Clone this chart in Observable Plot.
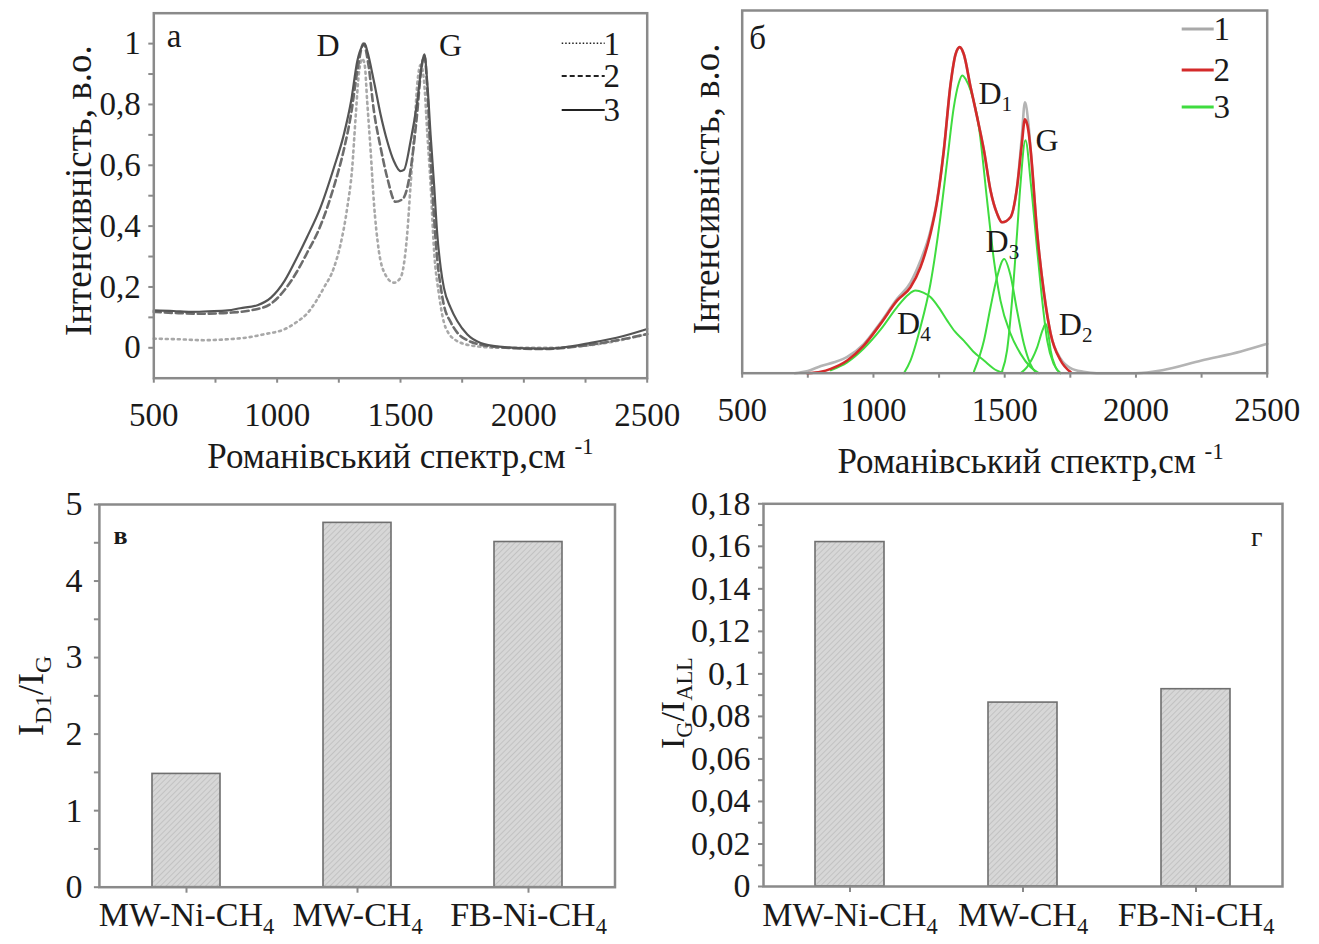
<!DOCTYPE html>
<html>
<head>
<meta charset="utf-8">
<script src="https://cdn.jsdelivr.net/npm/d3@7"></script>
<script src="https://cdn.jsdelivr.net/npm/@observablehq/plot@0.6"></script>
<style>
  body { margin: 0; background: #fff; }
  #wrap { position: relative; width: 1319px; height: 944px; overflow: hidden; background: #fff; }
  .panel { position: absolute; }
  .panel svg { overflow: visible; }
</style>
</head>
<body>
<svg width="0" height="0" style="position:absolute">
  <defs>
    <pattern id="hatch" patternUnits="userSpaceOnUse" width="4" height="4" patternTransform="rotate(45)">
      <rect width="4" height="4" fill="#d7d7d7"></rect>
      <line x1="0" y1="0" x2="0" y2="4" stroke="#b9b9b9" stroke-width="1.4"></line>
    </pattern>
  </defs>
</svg>
<div id="wrap"></div>
<script>
// ---------------- DATA ----------------
// Panel a: Raman spectra (Raman shift, cm^-1 ; normalized intensity)
const specA1 = [ // 1 – dotted
  [500,0.030],[600,0.028],[700,0.025],[800,0.028],[880,0.034],[950,0.045],[1027,0.060],[1080,0.085],
  [1122,0.113],[1189,0.197],[1230,0.263],[1257,0.340],[1284,0.460],[1304,0.590],[1318,0.757],[1331,0.900],
  [1345,0.950],[1355,0.930],[1365,0.810],[1379,0.647],[1392,0.480],[1412,0.320],[1439,0.240],[1473,0.214],
  [1500,0.230],[1527,0.373],[1541,0.537],[1555,0.700],[1568,0.867],[1582,0.930],[1595,0.880],[1609,0.700],
  [1622,0.537],[1636,0.320],[1656,0.175],[1683,0.066],[1730,0.022],[1798,0.006],[1900,0.000],[2100,0.000],
  [2300,0.012],[2500,0.045]
];
const specA2 = [ // 2 – dashed
  [500,0.118],[600,0.114],[700,0.112],[800,0.115],[900,0.124],[975,0.145],[1030,0.190],[1080,0.250],
  [1120,0.310],[1175,0.400],[1230,0.530],[1270,0.650],[1300,0.770],[1325,0.910],[1350,1.000],[1370,0.930],
  [1392,0.780],[1419,0.660],[1446,0.560],[1480,0.480],[1510,0.490],[1540,0.580],[1565,0.750],[1585,0.920],
  [1597,0.960],[1610,0.830],[1622,0.620],[1636,0.430],[1649,0.290],[1663,0.200],[1676,0.140],[1703,0.085],
  [1730,0.050],[1771,0.025],[1825,0.010],[1900,0.002],[2068,-0.004],[2271,0.010],[2400,0.028],[2500,0.045]
];
const specA3 = [ // 3 – solid
  [500,0.123],[580,0.121],[650,0.118],[720,0.120],[800,0.123],[850,0.130],[920,0.140],[975,0.165],
  [1030,0.220],[1080,0.296],[1120,0.362],[1175,0.460],[1230,0.592],[1270,0.700],[1300,0.812],[1325,0.943],
  [1345,0.992],[1355,1.000],[1365,0.976],[1392,0.877],[1419,0.768],[1446,0.680],[1473,0.614],[1500,0.581],
  [1514,0.585],[1541,0.680],[1568,0.810],[1588,0.940],[1597,0.965],[1609,0.867],[1622,0.700],[1636,0.537],
  [1649,0.373],[1663,0.263],[1676,0.197],[1703,0.132],[1730,0.088],[1771,0.044],[1825,0.016],[1900,0.004],
  [2068,-0.003],[2150,0.000],[2271,0.016],[2400,0.038],[2500,0.062]
];
const peakLabelsA = [{t: "D", x: 1206, y: 0.96}, {t: "G", x: 1703, y: 0.96}];

// Panel б: measured spectrum (1), fitted envelope (2), fitted components (3)
const specB1 = [
  [700,0.000],[750,0.006],[800,0.020],[850,0.030],[900,0.045],[963,0.080],[1027,0.140],[1090,0.205],
  [1141,0.250],[1179,0.310],[1217,0.392],[1243,0.480],[1268,0.614],[1294,0.798],[1313,0.880],[1329,0.899],
  [1344,0.880],[1370,0.789],[1395,0.706],[1421,0.614],[1446,0.504],[1471,0.440],[1490,0.416],[1522,0.430],
  [1547,0.513],[1565,0.650],[1577,0.747],[1590,0.690],[1599,0.614],[1624,0.385],[1650,0.219],[1675,0.109],
  [1713,0.040],[1751,0.014],[1800,0.004],[1850,0.000],[2000,0.000],[2100,0.008],[2250,0.035],[2400,0.060],
  [2500,0.081]
];
const specB2 = [
  [748,0.000],[800,0.004],[837,0.012],[900,0.035],[963,0.076],[1027,0.136],[1090,0.200],[1141,0.237],
  [1179,0.292],[1217,0.384],[1243,0.476],[1268,0.614],[1294,0.798],[1313,0.880],[1329,0.899],[1344,0.880],
  [1370,0.789],[1395,0.706],[1421,0.614],[1446,0.504],[1471,0.440],[1490,0.416],[1522,0.430],[1547,0.513],
  [1565,0.630],[1577,0.700],[1590,0.670],[1599,0.614],[1624,0.385],[1650,0.219],[1675,0.109],[1713,0.035],
  [1751,0.003]
];
const fitD4 = [[837,0.008],[900,0.030],[963,0.068],[1027,0.120],[1090,0.182],[1130,0.215],[1160,0.228],
  [1190,0.222],[1217,0.210],[1250,0.180],[1281,0.145],[1310,0.115],[1344,0.090],[1380,0.060],[1421,0.035],
  [1471,0.007],[1500,0.000]];
const fitD1 = [[1116,0.000],[1141,0.035],[1179,0.127],[1217,0.246],[1255,0.430],[1281,0.586],[1306,0.733],
  [1325,0.800],[1338,0.821],[1352,0.810],[1370,0.780],[1402,0.678],[1433,0.476],[1459,0.311],[1484,0.200],
  [1522,0.109],[1560,0.054],[1598,0.017],[1630,0.000]];
const fitD3 = [[1383,0.005],[1421,0.090],[1446,0.182],[1471,0.265],[1498,0.315],[1522,0.270],[1547,0.173],
  [1573,0.081],[1598,0.025],[1620,0.000]];
const fitG = [[1490,0.005],[1509,0.063],[1528,0.200],[1547,0.385],[1560,0.520],[1579,0.642],[1600,0.520],
  [1624,0.338],[1643,0.200],[1662,0.090],[1687,0.025],[1713,0.000]];
const fitD2 = [[1560,0.000],[1585,0.017],[1624,0.072],[1645,0.120],[1656,0.136],[1666,0.110],[1675,0.063],
  [1694,0.017],[1713,0.000]];
const bandLabelsB = [
  {t: "D_{1}", x: 1400, y: 0.743}, {t: "G", x: 1617, y: 0.612}, {t: "D_{3}", x: 1427, y: 0.334},
  {t: "D_{4}", x: 1090, y: 0.109}, {t: "D_{2}", x: 1706, y: 0.104}
];

// Panels в, г: bar charts
const samples = ["MW-Ni-CH_{4}", "MW-CH_{4}", "FB-Ni-CH_{4}"];
const ratioD1G = [1.48, 4.76, 4.51];
const ratioGAll = [0.162, 0.0865, 0.0928];

// Tick values / labels
const xTicksRaman = [500, 750, 1000, 1250, 1500, 1750, 2000, 2250, 2500];
const xTickLabelsRaman = ["500", "", "1000", "", "1500", "", "2000", "", "2500"];
const yTicksA = [0, 0.1, 0.2, 0.3, 0.4, 0.5, 0.6, 0.7, 0.8, 0.9, 1];
const yTickLabelsA = ["0", "", "0,2", "", "0,4", "", "0,6", "", "0,8", "", "1"];
const yTicksV = [0, 0.5, 1, 1.5, 2, 2.5, 3, 3.5, 4, 4.5, 5];
const yTickLabelsV = ["0", "", "1", "", "2", "", "3", "", "4", "", "5"];
const yTicksG = [0, 0.01, 0.02, 0.03, 0.04, 0.05, 0.06, 0.07, 0.08, 0.09, 0.1, 0.11, 0.12, 0.13, 0.14, 0.15, 0.16, 0.17, 0.18];
const yTickLabelsG = ["0", "", "0,02", "", "0,04", "", "0,06", "", "0,08", "", "0,1", "", "0,12", "", "0,14", "", "0,16", "", "0,18"];

const xTitle = "Романівський спектр,см ^{-1}";
const yTitleSpectra = "Інтенсивність, в.о.";
const yTitleV = "I_{D1}/I_{G}";
const yTitleG = "I_{G}/I_{ALL}";

// ---------------- HELPERS ----------------
const FONT = "'Liberation Serif', 'Times New Roman', serif";
const FRAME = "#8a8a8a";
const rows = (arr, s) => arr.map(([x, y]) => ({x, y, s}));
const labelOf = (ticks, labels) => d => { const i = ticks.findIndex(t => Math.abs(t - d) < 1e-9); return i < 0 ? "" : labels[i]; };

function richify(svg) {
  svg.querySelectorAll("text").forEach(t => {
    const els = t.querySelectorAll("tspan").length ? [...t.querySelectorAll("tspan")] : [t];
    els.forEach(el => {
      const s = el.textContent;
      if (!/[_^]\{/.test(s)) return;
      while (el.firstChild) el.removeChild(el.firstChild);
      const re = /([_^])\{([^}]*)\}/g;
      let last = 0, m;
      const add = (str, kind) => {
        const ts = document.createElementNS("http://www.w3.org/2000/svg", "tspan");
        ts.textContent = str;
        if (kind) {
          ts.setAttribute("font-size", "66%");
          ts.setAttribute("baseline-shift", kind === "_" ? "-0.35em" : "0.6em");
        }
        el.appendChild(ts);
      };
      while ((m = re.exec(s))) {
        if (m.index > last) add(s.slice(last, m.index));
        add(m[2], m[1]);
        last = re.lastIndex;
      }
      if (last < s.length) add(s.slice(last));
    });
  });
}

function legendMark(items, {a, b, c, offs, fontSize}) {
  return (index, scales, values, dims) => {
    const g = d3.create("svg:g");
    const xr = dims.width - dims.marginRight;
    const yt = dims.marginTop;
    items.forEach((it, i) => {
      const y = yt + offs[i];
      g.append("line").attr("x1", xr - a).attr("x2", xr - b).attr("y1", y).attr("y2", y)
        .attr("stroke", it.color).attr("stroke-width", it.width)
        .attr("stroke-dasharray", it.dash || null);
      g.append("text").attr("x", xr - c).attr("y", y).attr("dy", "0.34em")
        .attr("font-size", fontSize).attr("fill", "#1a1a1a").text(it.label);
    });
    return g.node();
  };
}

const wrap = document.getElementById("wrap");
function place(node, left, top) {
  const d = document.createElement("div");
  d.className = "panel";
  d.style.left = left + "px";
  d.style.top = top + "px";
  d.appendChild(node);
  wrap.appendChild(d);
  richify(node);
}
const style = {fontFamily: FONT, fontSize: "33px", color: "#1a1a1a", background: "transparent", overflow: "visible"};

// ---------------- PANEL a ----------------
const plotA = Plot.plot({
  width: 660, height: 480,
  marginLeft: 153.3, marginRight: 13.3, marginTop: 12.7, marginBottom: 102.3,
  x: {domain: [500, 2500]},
  y: {domain: [-0.1, 1.1]},
  style,
  marks: [
    Plot.axisX({ticks: xTicksRaman, tickFormat: labelOf(xTicksRaman, xTickLabelsRaman), tickSize: 5, tickPadding: 19, stroke: FRAME, strokeWidth: 2, label: null}),
    Plot.axisY({ticks: yTicksA, tickFormat: labelOf(yTicksA, yTickLabelsA), tickSize: 5, tickPadding: 8, stroke: FRAME, strokeWidth: 2, label: null}),
    Plot.line(rows(specA1, "1"), {x: "x", y: "y", stroke: "#a8a8a8", strokeWidth: 2.6, strokeDasharray: "2,4", curve: "monotone-x"}),
    Plot.line(rows(specA2, "2"), {x: "x", y: "y", stroke: "#6c6c6c", strokeWidth: 2.6, strokeDasharray: "7,4", curve: "monotone-x"}),
    Plot.line(rows(specA3, "3"), {x: "x", y: "y", stroke: "#555555", strokeWidth: 2.2, curve: "monotone-x"}),
    Plot.frame({stroke: FRAME, strokeWidth: 2.5}),
    Plot.text(peakLabelsA, {x: "x", y: "y", text: "t", lineAnchor: "bottom", textAnchor: "middle", fontSize: 32}),
    Plot.text(["а"], {text: d => d, frameAnchor: "top-left", dx: 13, dy: 34, lineAnchor: "bottom", textAnchor: "start", fontSize: 33}),
    Plot.text([xTitle], {text: d => d, frameAnchor: "bottom", dy: 90, lineAnchor: "bottom", textAnchor: "middle", fontSize: 35}),
    Plot.text([yTitleSpectra], {text: d => d, frameAnchor: "left", dx: -63, dy: -5, rotate: -90, lineAnchor: "bottom", textAnchor: "middle", fontSize: 37}),
    legendMark([
      {label: "1", color: "#222", width: 1.6, dash: "1.5,2"},
      {label: "2", color: "#222", width: 2, dash: "5,3"},
      {label: "3", color: "#222", width: 2}
    ], {a: 85, b: 42, c: 35, offs: [30.6, 63.3, 97.3], fontSize: 33})
  ]
});
place(plotA, 0, 0);

// ---------------- PANEL б ----------------
const plotB = Plot.plot({
  width: 659, height: 480,
  marginLeft: 81.7, marginRight: 52.3, marginTop: 10, marginBottom: 107.3,
  x: {domain: [500, 2500]},
  y: {domain: [0, 1], axis: null},
  style,
  marks: [
    Plot.axisX({ticks: xTicksRaman, tickFormat: labelOf(xTicksRaman, xTickLabelsRaman), tickSize: 5, tickPadding: 19, stroke: FRAME, strokeWidth: 2, label: null}),
    Plot.line(rows(specB1, "1"), {x: "x", y: "y", stroke: "#b4b4b4", strokeWidth: 2.6, curve: "monotone-x"}),
    Plot.line(rows(fitD4, "D4"), {x: "x", y: "y", stroke: "#3fdc3f", strokeWidth: 2, curve: "monotone-x"}),
    Plot.line(rows(fitD1, "D1"), {x: "x", y: "y", stroke: "#3fdc3f", strokeWidth: 2, curve: "monotone-x"}),
    Plot.line(rows(fitD3, "D3"), {x: "x", y: "y", stroke: "#3fdc3f", strokeWidth: 2, curve: "monotone-x"}),
    Plot.line(rows(fitG, "G"), {x: "x", y: "y", stroke: "#3fdc3f", strokeWidth: 2, curve: "monotone-x"}),
    Plot.line(rows(fitD2, "D2"), {x: "x", y: "y", stroke: "#3fdc3f", strokeWidth: 2, curve: "monotone-x"}),
    Plot.line(rows(specB2, "2"), {x: "x", y: "y", stroke: "#d42a2a", strokeWidth: 2.6, curve: "monotone-x"}),
    Plot.frame({stroke: FRAME, strokeWidth: 2.5}),
    Plot.text(bandLabelsB, {x: "x", y: "y", text: "t", lineAnchor: "bottom", textAnchor: "start", fontSize: 32}),
    Plot.text(["б"], {text: d => d, frameAnchor: "top-left", dx: 7, dy: 38, lineAnchor: "bottom", textAnchor: "start", fontSize: 33}),
    Plot.text([xTitle], {text: d => d, frameAnchor: "bottom", dx: 26, dy: 100, lineAnchor: "bottom", textAnchor: "middle", fontSize: 35}),
    Plot.text([yTitleSpectra], {text: d => d, frameAnchor: "left", dx: -23, dy: -3, rotate: -90, lineAnchor: "bottom", textAnchor: "middle", fontSize: 37}),
    legendMark([
      {label: "1", color: "#a9a9a9", width: 3},
      {label: "2", color: "#d42a2a", width: 3},
      {label: "3", color: "#3fdc3f", width: 3}
    ], {a: 85, b: 53, c: 45, offs: [19, 60, 97], fontSize: 33})
  ]
});
place(plotB, 660, 0);

// ---------------- PANEL в ----------------
const barsV = samples.map((s, i) => ({s, v: ratioD1G[i]}));
const plotV = Plot.plot({
  width: 660, height: 464,
  marginLeft: 98.9, marginRight: 45.5, marginTop: 24, marginBottom: 57.3,
  x: {type: "band", domain: samples, paddingInner: 0.6, paddingOuter: 0.3},
  y: {domain: [0, 5]},
  style,
  marks: [
    Plot.barY(barsV, {x: "s", y: "v", fill: "url(#hatch)", stroke: "#6f6f6f", strokeWidth: 1.6}),
    Plot.axisX({tickSize: 6, tickPadding: 9, stroke: FRAME, strokeWidth: 2, label: null, fontSize: 34}),
    Plot.axisY({ticks: yTicksV, tickFormat: labelOf(yTicksV, yTickLabelsV), tickSize: 5, tickPadding: 12, stroke: FRAME, strokeWidth: 2, label: null, fontSize: 34}),
    Plot.frame({stroke: FRAME, strokeWidth: 2.5}),
    Plot.text(["в"], {text: d => d, frameAnchor: "top-left", dx: 14, dy: 39, lineAnchor: "bottom", textAnchor: "start", fontSize: 26, fontWeight: "bold"}),
    Plot.text([yTitleV], {text: d => d, frameAnchor: "left", dx: -56, dy: 0, rotate: -90, lineAnchor: "bottom", textAnchor: "middle", fontSize: 36})
  ]
});
place(plotV, 0, 480);

// ---------------- PANEL г ----------------
const barsG = samples.map((s, i) => ({s, v: ratioGAll[i]}));
const plotG = Plot.plot({
  width: 659, height: 464,
  marginLeft: 103, marginRight: 37, marginTop: 23.3, marginBottom: 58,
  x: {type: "band", domain: samples, paddingInner: 0.6, paddingOuter: 0.3},
  y: {domain: [0, 0.18]},
  style,
  marks: [
    Plot.barY(barsG, {x: "s", y: "v", fill: "url(#hatch)", stroke: "#6f6f6f", strokeWidth: 1.6}),
    Plot.axisX({tickSize: 6, tickPadding: 9, stroke: FRAME, strokeWidth: 2, label: null, fontSize: 34}),
    Plot.axisY({ticks: yTicksG, tickFormat: labelOf(yTicksG, yTickLabelsG), tickSize: 5, tickPadding: 8, stroke: FRAME, strokeWidth: 2, label: null, fontSize: 34}),
    Plot.frame({stroke: FRAME, strokeWidth: 2.5}),
    Plot.text(["г"], {text: d => d, frameAnchor: "top-right", dx: -20, dy: 42, lineAnchor: "bottom", textAnchor: "end", fontSize: 28}),
    Plot.text([yTitleG], {text: d => d, frameAnchor: "left", dx: -80, dy: 8, rotate: -90, lineAnchor: "bottom", textAnchor: "middle", fontSize: 34})
  ]
});
place(plotG, 660, 480);
</script>
</body>
</html>
